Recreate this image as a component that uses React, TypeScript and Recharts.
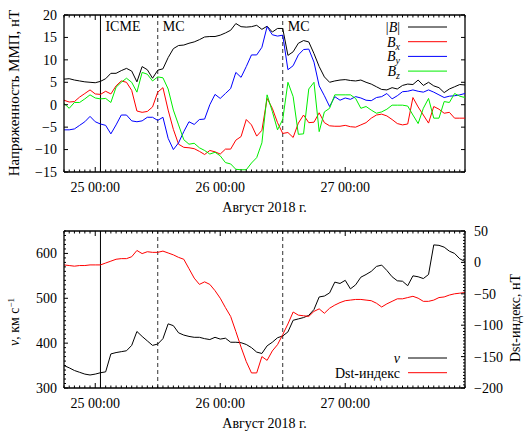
import { LineChart, Line, XAxis, YAxis, ReferenceLine, Legend, Label } from 'recharts';

// hours from 25 Aug 00:00 UT
const hours = [
  -6, -5, -4, -3, -2, -1, 0, 1, 2, 3, 4, 5, 6, 7, 8, 9, 10, 11, 12, 13, 14, 15, 16, 17, 18, 19,
  20, 21, 22, 23, 24, 25, 26, 27, 28, 29, 30, 31, 32, 33, 34, 35, 36, 37, 38, 39, 40, 41, 42, 43,
  44, 45, 46, 47, 48, 49, 50, 51, 52, 53, 54, 55, 56, 57, 58, 59, 60, 61, 62, 63, 64, 65, 66, 67,
  68, 69, 70, 71,
];

const bMag = [
  5.7, 5.8, 5.5, 5.3, 5.1, 5.0,
  4.9, 5.2, 5.8, 7.0, 7.0, 7.6, 8.1, 7.5, 5.1, 8.5,
  7.8, 5.9, 7.7, 8.0, 10.5, 12.5, 13.2, 13.3, 13.7, 14.0,
  14.5, 15.1, 15.2, 15.2, 15.5, 16.0, 16.6, 18.1, 17.4, 17.3,
  17.4, 17.7, 16.8, 17.5, 16.2, 17.0, 17.0, 11.0, 11.8, 13.7,
  14.3, 14.0, 11.4, 8.5, 6.2, 5.0, 5.3, 5.5, 5.6, 5.4,
  5.3, 5.5, 5.0, 4.6, 4.0, 3.4, 3.3, 3.8, 3.5, 4.3,
  4.6, 4.5, 5.5, 4.3, 5.0, 4.2, 3.8, 2.7, 3.5, 4.0,
  4.5, 4.4,
];

const bx = [
  1.0, 0.6, 0.7, 1.7, 2.5, 3.3,
  2.4, 2.3, 3.0, 2.4, 4.2, 5.3, 5.0, 3.2, -1.4, -1.7,
  -1.5, -0.5, 2.8, 3.8, -1.2, -5.5, -8.8, -9.5, -9.6, -9.8,
  -10.4, -11.1, -10.2, -10.5, -11.0, -9.9, -9.9, -7.9, -7.1, -3.3,
  -4.5, -7.0, -5.7, 1.4, -0.8, -4.0, -6.4, -6.2, -7.3, -4.1,
  -2.3, -4.0, -3.9, -1.8, -4.0, -4.7, -4.8, -4.8, -4.6, -4.9,
  -5.0, -4.5, -4.0, -3.0, -2.3, -2.1, -2.5, -3.3, -4.2, -4.5,
  -4.3, 1.6, -0.5, -2.3, -4.1, -0.4, -1.0, -1.9, -1.7, -3.0,
  -3.0, -3.0,
];

const by = [
  -5.6, -5.6, -5.4, -4.6, -3.8, -2.6,
  -3.8, -4.3, -4.6, -6.5, -4.5, -2.3, -2.3, -3.6, -3.8, -3.6,
  -2.8, -2.8, -3.5, -2.8, -7.5, -10.0, -8.5, -6.0, -3.8, -4.4,
  -3.3, -3.2, 0.0, 2.3, 1.4, 2.5, 3.6, 7.2, 6.1, 8.5,
  11.1, 11.1, 12.8, 17.4, 15.6, 15.3, 15.5, 7.8, 8.7, 11.1,
  12.3, 12.4, 9.5, 4.2, 2.0, -0.4, 1.8, 1.0, 1.5, 1.2,
  1.8, 1.5, 1.0, 0.9, 1.6, 1.8, 2.5, 1.3, 2.0, 2.9,
  3.0, 3.3, 3.0, 2.8, 3.3, 2.8, 2.2, 1.6, 1.9, 2.0,
  2.2, 2.5,
];

const bz = [
  0.3, -0.8, 0.5, 0.5, 1.3, 2.2,
  1.5, 1.3, 1.4, 0.5, 3.9, 5.0, 5.9, 5.0, 2.8, 7.2,
  6.8, 5.3, 6.2, 6.0, 3.5, -1.2, -4.5, -7.8, -8.8, -8.6,
  -9.6, -10.2, -11.0, -10.6, -11.4, -12.9, -13.2, -14.4, -14.5, -14.5,
  -13.0, -11.8, -8.5, 2.2, -1.5, -5.6, -3.3, 5.0, 1.8, -6.6,
  -6.5, 3.5, 5.0, -6.0, -1.6, -0.8, 2.2, 2.2, 2.2, 2.2,
  1.4, -0.8, -0.4, -1.2, -1.9, -1.6, -1.0, -0.1, -0.1, -0.1,
  -0.3, -2.3, -4.2, -0.8, 1.4, -3.0, -3.0, 0.7, 0.5, 2.5,
  1.9, 1.6,
];

const speed = [
  350, 345, 339, 335, 331, 329,
  331, 334, 336, 376, 379, 381, 383, 395, 426, 415,
  405, 395, 398, 410, 443, 439, 423, 418, 415, 413,
  413, 410, 408, 413, 409, 411, 402, 402, 401, 397,
  390, 380, 377, 394, 402, 412, 416, 425, 451, 454,
  457, 462, 475, 503, 505, 512, 536, 533, 540, 521,
  530, 547, 553, 560, 571, 574, 562, 548, 539, 538,
  528, 550, 548, 544, 553, 619, 618, 614, 605, 600,
  588, 582,
];

const dst = [
  -4, -5, -6, -5, -5, -4,
  -4, -4, -1, 2, 5, 6, 6, 9, 19, 14,
  17, 16, 16, 18, 15, 12, 8, 5, -10, -25,
  -35, -31, -35, -45, -57, -72, -86, -110, -135, -158,
  -176, -176, -150, -156, -141, -131, -115, -98, -79, -84,
  -85, -86, -78, -74, -81, -73, -68, -64, -61, -60,
  -59, -59, -60, -61, -65, -71, -66, -62, -58, -58,
  -56, -54, -57, -62, -62, -60, -56, -55, -52, -50,
  -49, -48,
];

const icmeStart = 1;
const mcBounds = [12, 36];
const dayTicks = [0, 24, 48];
const dayLabels = ['25 00:00', '26 00:00', '27 00:00'];
const fieldTicks = [-15, -10, -5, 0, 5, 10, 15, 20];
const speedLabels = [300, 400, 500, 600];
const dstLabels = [-200, -150, -100, -50, 0, 50];
const legendOrder = ['B', 'Bx', 'By', 'Bz', 'v', 'Dst-индекс'];

const fieldData = hours.map((h, i) => ({ h, bMag: bMag[i], bx: bx[i], by: by[i], bz: bz[i] }));
const windData = hours.map((h, i) => ({ h, speed: speed[i], dst: dst[i] }));

const speedTicks: number[] = [];
for (let v = 300; v <= 650; v += 10) speedTicks.push(v);
const dstTicks: number[] = [];
for (let v = -200; v <= 50; v += 5) dstTicks.push(v);

const FONT = '"Liberation Serif", "DejaVu Serif", serif';
const W = 529;
const H = 216;
const PLOT_W = 401;
const PLOT_H = 157;
const MARGIN = { top: 15, right: 64, bottom: 0, left: 0 };

const fmt = (v: number) => (v < 0 ? '\u2212' + Math.abs(v) : String(v));

const TimeTick = ({ x, y, payload }: any) => {
  const i = dayTicks.indexOf(payload.value);
  const len = i >= 0 ? 5 : 2.5;
  return (
    <g>
      <line x1={x} x2={x} y1={y} y2={y - len} stroke="#000" />
      <line x1={x} x2={x} y1={y - PLOT_H} y2={y - PLOT_H + len} stroke="#000" />
      {i >= 0 && (
        <text x={x} y={y + 20} textAnchor="middle" fontFamily={FONT} fontSize={14} fill="#000">
          {dayLabels[i]}
        </text>
      )}
    </g>
  );
};

const FieldTick = ({ x, y, payload }: any) => (
  <g>
    <line x1={x} x2={x + 4} y1={y} y2={y} stroke="#000" />
    <line x1={x + PLOT_W} x2={x + PLOT_W - 4} y1={y} y2={y} stroke="#000" />
    <text x={x - 7} y={y} dy="0.35em" textAnchor="end" fontFamily={FONT} fontSize={14} fill="#000">
      {fmt(payload.value)}
    </text>
  </g>
);

const SpeedTick = ({ x, y, payload }: any) => {
  const major = speedLabels.includes(payload.value);
  return (
    <g>
      <line x1={x} x2={x + (major ? 4 : 2)} y1={y} y2={y} stroke="#000" />
      {major && (
        <text x={x - 7} y={y} dy="0.35em" textAnchor="end" fontFamily={FONT} fontSize={14} fill="#000">
          {payload.value}
        </text>
      )}
    </g>
  );
};

const DstTick = ({ x, y, payload }: any) => {
  const major = dstLabels.includes(payload.value);
  return (
    <g>
      <line x1={x} x2={x - (major ? 4 : 2)} y1={y} y2={y} stroke="#000" />
      {major && (
        <text x={x + 9} y={y} dy="0.35em" textAnchor="start" fontFamily={FONT} fontSize={14} fill="#000">
          {fmt(payload.value)}
        </text>
      )}
    </g>
  );
};

const eventLabel = (text: string) => (props: any) => {
  const { viewBox } = props;
  return (
    <text x={viewBox.x + 5} y={viewBox.y + 16} fontFamily={FONT} fontSize={14} fill="#000">
      {text}
    </text>
  );
};

const xLabel = (props: any) => {
  const { viewBox } = props;
  return (
    <text x={viewBox.x + viewBox.width / 2} y={viewBox.y + 40} textAnchor="middle" fontFamily={FONT} fontSize={14} fill="#000">
      Август 2018 г.
    </text>
  );
};

const yLabel = (text: React.ReactNode, cx: number, cy: number, size = 14) => () => (
  <text x={cx} y={cy} transform={`rotate(-90 ${cx} ${cy})`} textAnchor="middle" dy="0.35em" fontFamily={FONT} fontSize={size} fill="#000">
    {text}
  </text>
);

const seriesName = (name: string) => {
  if (name === 'B') return (<><tspan>|</tspan><tspan fontStyle="italic">B</tspan><tspan>|</tspan></>);
  if (name.length === 2 && name[0] === 'B') {
    return (<><tspan fontStyle="italic">B</tspan><tspan fontStyle="italic" fontSize={10} dy={3}>{name.slice(1)}</tspan></>);
  }
  if (name === 'v') return <tspan fontStyle="italic">v</tspan>;
  return name;
};

const LegendBox = ({ payload }: any) => {
  const items = [...(payload || [])].sort(
    (a: any, b: any) => legendOrder.indexOf(a.value) - legendOrder.indexOf(b.value),
  );
  return (
    <svg width={160} height={items.length * 15 + 6} style={{ display: 'block' }}>
      {items.map((p: any, i: number) => {
        const yy = 11 + i * 14.7;
        return (
          <g key={p.value}>
            <text x={100} y={yy + 5} textAnchor="end" fontFamily={FONT} fontSize={14} fill="#000">
              {seriesName(p.value)}
            </text>
            <line x1={108} x2={147} y1={yy} y2={yy} stroke={p.color} strokeWidth={1} />
          </g>
        );
      })}
    </svg>
  );
};

export default function App() {
  return (
    <div style={{ position: 'absolute', left: 0, top: 0, width: W, height: 432, background: '#fff' }}>
      <div style={{ position: 'absolute', left: 0, top: 0 }}>
        <LineChart width={W} height={H} data={fieldData} margin={MARGIN}>
          <XAxis
            dataKey="h"
            type="number"
            domain={[-6, 71]}
            ticks={hours}
            interval={0}
            tick={<TimeTick />}
            tickLine={false}
            tickSize={0}
            tickMargin={0}
            height={44}
            axisLine={{ stroke: '#000', strokeWidth: 1.3 }}
          >
            <Label content={xLabel} />
          </XAxis>
          <YAxis
            type="number"
            domain={[-15, 20]}
            ticks={fieldTicks}
            interval={0}
            tick={<FieldTick />}
            tickLine={false}
            tickSize={0}
            tickMargin={0}
            width={64}
            axisLine={{ stroke: '#000', strokeWidth: 1.3 }}
          >
            <Label content={yLabel('Напряженность ММП, нТ', 14, 93, 15)} />
          </YAxis>
          <ReferenceLine y={20} stroke="#000" strokeWidth={1.3} />
          <ReferenceLine x={71} stroke="#000" strokeWidth={1.3} />
          <ReferenceLine x={icmeStart} stroke="#000" strokeWidth={1} label={eventLabel('ICME')} />
          <ReferenceLine x={mcBounds[0]} stroke="#333" strokeDasharray="4 3" label={eventLabel('MC')} />
          <ReferenceLine x={mcBounds[1]} stroke="#333" strokeDasharray="4 3" label={eventLabel('MC')} />
          <Legend
            layout="vertical"
            align="center"
            verticalAlign="middle"
            content={<LegendBox />}
            wrapperStyle={{ position: 'absolute', left: 300, top: 16, width: 160 }}
          />
          <Line dataKey="bMag" name="B" stroke="#000000" strokeWidth={1} dot={false} isAnimationActive={false} />
          <Line dataKey="bx" name="Bx" stroke="#ff0000" strokeWidth={1} dot={false} isAnimationActive={false} />
          <Line dataKey="by" name="By" stroke="#0000ff" strokeWidth={1} dot={false} isAnimationActive={false} />
          <Line dataKey="bz" name="Bz" stroke="#00ee00" strokeWidth={1} dot={false} isAnimationActive={false} />
        </LineChart>
      </div>
      <div style={{ position: 'absolute', left: 0, top: H }}>
        <LineChart width={W} height={H} data={windData} margin={{ ...MARGIN, right: 0 }}>
          <XAxis
            dataKey="h"
            type="number"
            domain={[-6, 71]}
            ticks={hours}
            interval={0}
            tick={<TimeTick />}
            tickLine={false}
            tickSize={0}
            tickMargin={0}
            height={44}
            axisLine={{ stroke: '#000', strokeWidth: 1.3 }}
          >
            <Label content={xLabel} />
          </XAxis>
          <YAxis
            yAxisId="speed"
            type="number"
            domain={[300, 650]}
            ticks={speedTicks}
            interval={0}
            tick={<SpeedTick />}
            tickLine={false}
            tickSize={0}
            tickMargin={0}
            width={64}
            axisLine={{ stroke: '#000', strokeWidth: 1.3 }}
          >
            <Label
              content={yLabel(
                <><tspan fontStyle="italic">v</tspan>, км с<tspan fontSize={9} dy={-5}>−1</tspan></>,
                14, 106, 14,
              )}
            />
          </YAxis>
          <YAxis
            yAxisId="dst"
            orientation="right"
            type="number"
            domain={[-200, 50]}
            ticks={dstTicks}
            interval={0}
            tick={<DstTick />}
            tickLine={false}
            tickSize={0}
            tickMargin={0}
            width={64}
            axisLine={{ stroke: '#000', strokeWidth: 1.3 }}
          >
            <Label content={yLabel('Dst-индекс, нТ', 515, 102, 14)} />
          </YAxis>
          <ReferenceLine yAxisId="speed" y={650} stroke="#000" strokeWidth={1.3} />
          <ReferenceLine yAxisId="speed" x={icmeStart} stroke="#000" strokeWidth={1} />
          <ReferenceLine yAxisId="speed" x={mcBounds[0]} stroke="#333" strokeDasharray="4 3" />
          <ReferenceLine yAxisId="speed" x={mcBounds[1]} stroke="#333" strokeDasharray="4 3" />
          <Legend
            layout="vertical"
            align="center"
            verticalAlign="middle"
            content={<LegendBox />}
            wrapperStyle={{ position: 'absolute', left: 300, top: 131, width: 160 }}
          />
          <Line yAxisId="speed" dataKey="speed" name="v" stroke="#000000" strokeWidth={1} dot={false} isAnimationActive={false} />
          <Line yAxisId="dst" dataKey="dst" name="Dst-индекс" stroke="#ff0000" strokeWidth={1} dot={false} isAnimationActive={false} />
        </LineChart>
      </div>
    </div>
  );
}
